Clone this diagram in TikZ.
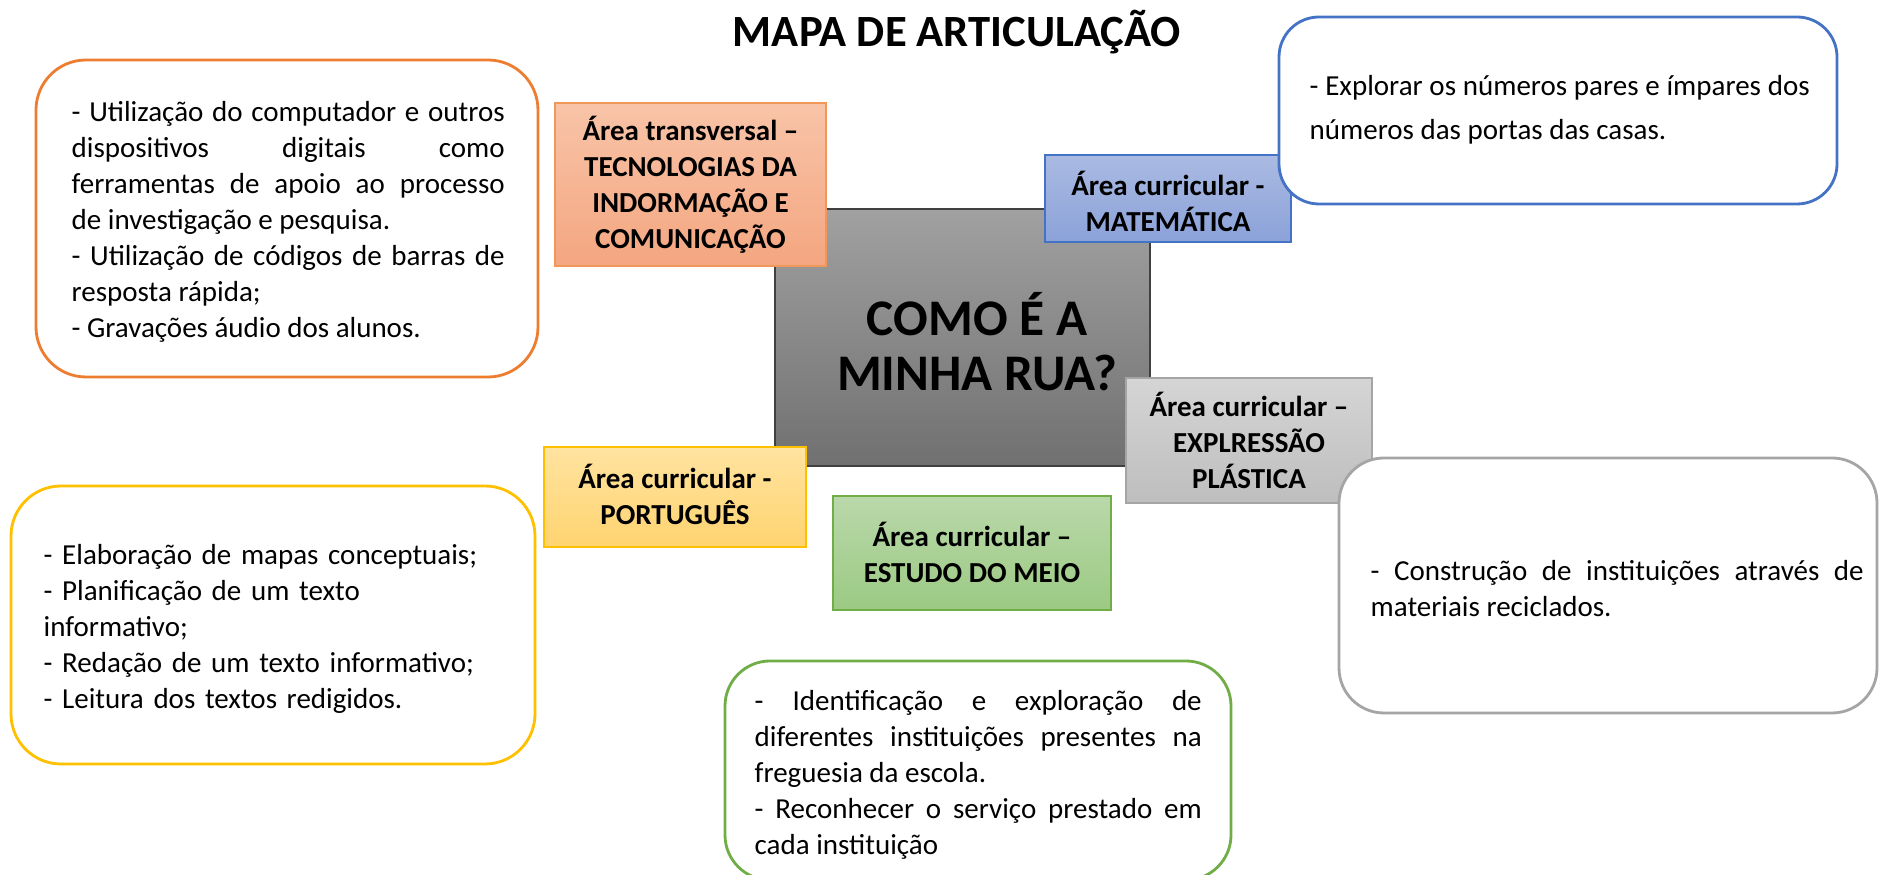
\documentclass[tikz,border=0pt]{standalone}
\usepackage{fontspec}
\setmainfont{Carlito}
\definecolor{laranja}{HTML}{ED7D31}
\definecolor{azul}{HTML}{4472C4}
\definecolor{cinza}{HTML}{A5A5A5}
\definecolor{amarelo}{HTML}{FFC000}
\definecolor{verde}{HTML}{70AD47}

\begin{document}
\begin{tikzpicture}[
  caixa/.style={line width=0.8pt,fill=white,rounded corners=0.45cm},
  etiqueta/.style={line width=0.5pt},
  corpo/.style={font=\fontsize{8.25}{10.24}\selectfont,inner sep=0pt,anchor=west},
  rotulo/.style={font=\fontsize{8.25}{10.24}\selectfont\bfseries,align=center,inner sep=0pt}
]
\useasboundingbox (0,0) rectangle (18.79,8.75);
\clip (0,0) rectangle (18.79,8.75);
\node[font=\fontsize{12.7}{15}\selectfont\bfseries] (titulo) at (9.57,8.43) {MAPA DE ARTICULAÇÃO};

\draw[draw=black!75,line width=0.5pt,rounded corners=0.15cm,top color=black!37,bottom color=black!56]
  (7.75,6.66) rectangle (11.50,4.09);
\node[font=\fontsize{14.6}{15.65}\selectfont\bfseries,align=center] (rua) at (9.77,5.33) {COMO É A\\MINHA RUA?};

\draw[etiqueta,draw=laranja!80,top color={rgb,255:red,248;green,196;blue,168},bottom color={rgb,255:red,244;green,166;blue,128}]
  (5.55,7.72) rectangle (8.26,6.09);
\node[rotulo] (tic) at (6.905,6.90) {Área transversal –\\TECNOLOGIAS DA\\INDORMAÇÃO E\\COMUNICAÇÃO};

\draw[etiqueta,draw=azul,top color={rgb,255:red,170;green,186;blue,226},bottom color={rgb,255:red,139;green,162;blue,217}]
  (10.45,7.20) rectangle (12.91,6.33);
\node[rotulo] (mat) at (11.68,6.74) {Área curricular -\\MATEMÁTICA};

\draw[caixa,draw=azul,rounded corners=0.4cm] (12.79,8.58) rectangle (18.37,6.71);
\node[corpo,text width=5.0cm,align=justify,font=\fontsize{8.25}{12.5}\selectfont] (txtmat) at (13.09,7.65)
  {- Explorar os números pares e ímpares dos\linebreak números das portas das casas.};

\draw[etiqueta,draw=cinza,top color={rgb,255:red,213;green,213;blue,213},bottom color={rgb,255:red,190;green,190;blue,190}]
  (11.26,4.97) rectangle (13.72,3.72);
\node[rotulo] (exp) at (12.49,4.345) {Área curricular –\\EXPLRESSÃO\\PLÁSTICA};

\draw[caixa,draw=cinza] (13.39,4.17) rectangle (18.77,1.62);
\node[corpo,text width=4.93cm,align=justify] (txtexp) at (13.70,2.865)
  {- Construção de instituições através de\linebreak materiais reciclados.};

\draw[etiqueta,draw=amarelo,top color={rgb,255:red,255;green,227;blue,160},bottom color={rgb,255:red,255;green,212;blue,112}]
  (5.44,4.28) rectangle (8.06,3.28);
\node[rotulo] (por) at (6.75,3.805) {Área curricular -\\PORTUGUÊS};

\draw[etiqueta,draw=verde,top color={rgb,255:red,186;green,216;blue,170},bottom color={rgb,255:red,155;green,202;blue,131}]
  (8.33,3.79) rectangle (11.11,2.65);
\node[rotulo] (est) at (9.72,3.225) {Área curricular –\\ESTUDO DO MEIO};

\draw[caixa,draw=verde] (7.25,2.14) rectangle (12.31,-0.05);
\node[corpo,text width=4.47cm,align=justify] (txtest) at (7.54,1.005)
  {-\quad Identificação e exploração de\linebreak diferentes instituições presentes na\linebreak freguesia da escola.\\
   - Reconhecer o serviço prestado em\linebreak cada instituição};

\draw[caixa,draw=laranja,rounded corners=0.5cm] (0.36,8.15) rectangle (5.38,4.98);
\node[corpo,text width=4.33cm,align=justify] (txttic) at (0.71,6.535)
  {- Utilização do computador e outros\linebreak dispositivos digitais como\linebreak ferramentas de apoio ao processo\linebreak de investigação e pesquisa.\\
   - Utilização de códigos de barras de\linebreak resposta rápida;\\
   - Gravações áudio dos alunos.};

\draw[caixa,draw=amarelo,rounded corners=0.5cm] (0.11,3.89) rectangle (5.35,1.11);
\node[corpo,text width=4.9cm,align=left] (txtpor) at (0.43,2.465)
  {- Elaboração de mapas conceptuais;\\- Planificação de um texto\\informativo;\\- Redação de um texto informativo;\\- Leitura dos textos redigidos.};
\end{tikzpicture}
\end{document}
